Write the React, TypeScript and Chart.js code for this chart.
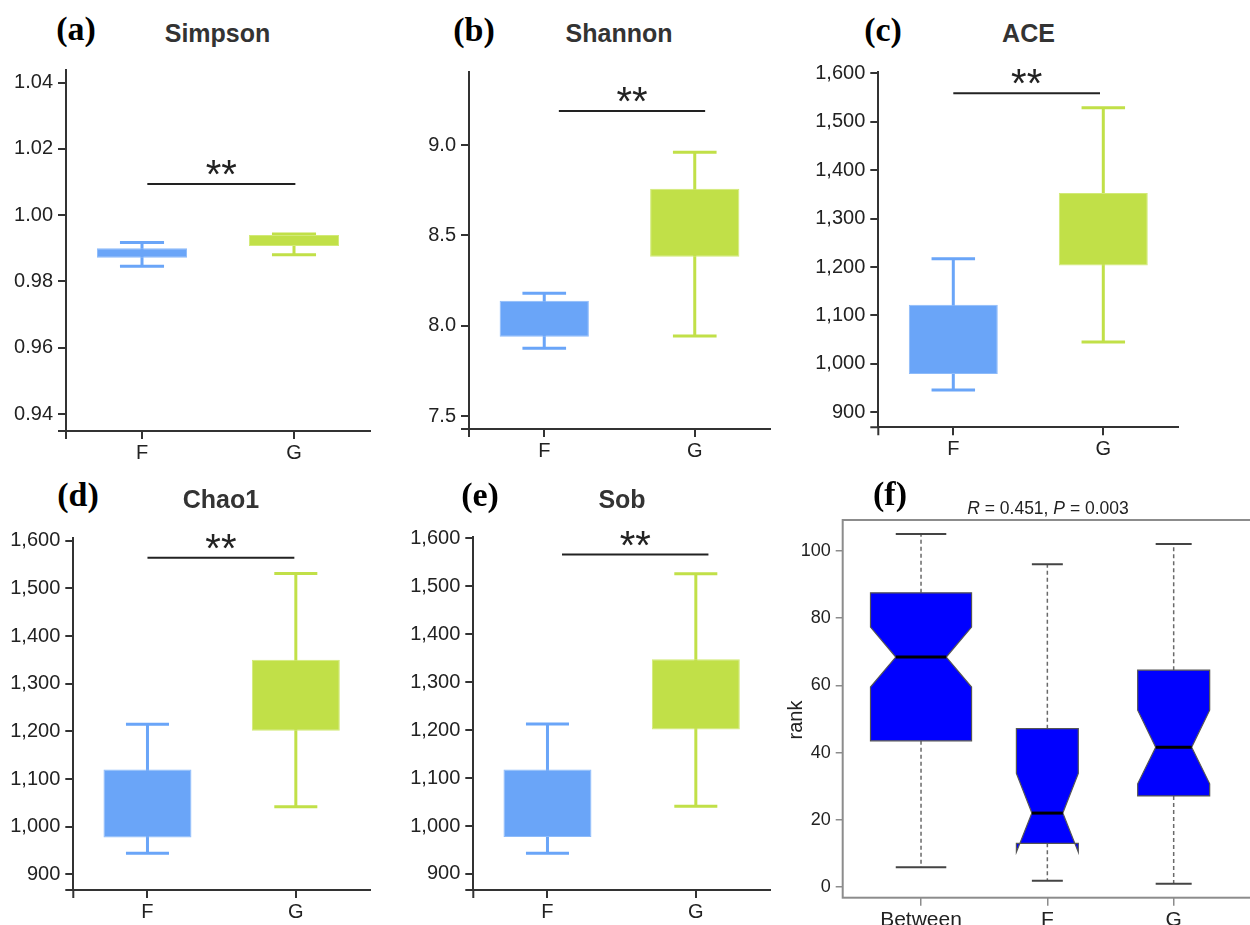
import React, { useEffect, useRef } from "react";
import { Chart, registerables } from "chart.js";
Chart.register(...registerables);

const SANS = "'Liberation Sans', Arial, sans-serif";
const SERIF = "'Liberation Serif', 'Times New Roman', serif";
const AX = "#333333";
const TXT = "#222222";

// ---------- data ----------
const groups = ["F", "G"];
const boxColors = ["#6aa5f8", "#c1e048"];
const boxEdges = ["#8dbbfa", "#d2ea77"];

// (a) Simpson
const simpsonLow = [0.9846, 0.9881];
const simpsonQ1 = [0.9872, 0.9907];
const simpsonQ3 = [0.99, 0.994];
const simpsonHigh = [0.9918, 0.9943];
const simpsonTicks = [0.94, 0.96, 0.98, 1.0, 1.02, 1.04];
const simpsonSig = 1.0094;

// (b) Shannon
const shannonLow = [7.875, 7.943];
const shannonQ1 = [7.939, 8.382];
const shannonQ3 = [8.138, 8.758];
const shannonHigh = [8.179, 8.96];
const shannonTicks = [7.5, 8.0, 8.5, 9.0];
const shannonSig = 9.188;

// (c) ACE
const aceLow = [946, 1045];
const aceQ1 = [979, 1203];
const aceQ3 = [1122, 1353];
const aceHigh = [1217, 1529];
const aceSig = 1559;

// (d) Chao1
const chaoLow = [944, 1042];
const chaoQ1 = [977, 1201];
const chaoQ3 = [1120, 1350];
const chaoHigh = [1215, 1531];
const chaoSig = 1564;

// (e) Sob
const sobLow = [943, 1041];
const sobQ1 = [977, 1201.5];
const sobQ3 = [1118, 1348];
const sobHigh = [1213, 1526];
const sobSig = 1566;

const richnessTicks = [900, 1000, 1100, 1200, 1300, 1400, 1500, 1600];

// (f) ANOSIM rank
const anosimGroups = ["Between", "F", "G"];
const anosimLow = [5.9, 1.9, 1.0];
const anosimQ1 = [43.5, 13.0, 27.1];
const anosimNotchLow = [59.5, 10.4, 30.7];
const anosimMedian = [68.4, 22.0, 41.6];
const anosimNotchHigh = [77.3, 33.8, 52.6];
const anosimQ3 = [87.5, 47.1, 64.5];
const anosimHigh = [105, 96, 102];
const anosimTicks = [0, 20, 40, 60, 80, 100];
const anosimBoxWidths = [0.8, 0.49, 0.57];

const fmt2 = (v: number) => v.toFixed(2);
const fmt1 = (v: number) => v.toFixed(1);
const fmtK = (v: number) => v.toLocaleString("en-US");

type Panel = {
  left: number; top: number; w: number; h: number;
  padTop: number; padRight: number; yW: number; xH: number;
  min: number; max: number; ticks: number[]; fmt: (v: number) => string;
  low: number[]; q1: number[]; q3: number[]; high: number[];
  sig: number; sigFrom: number; sigTo: number;
};

const panels: Panel[] = [
  { left: 0, top: 58, w: 380, h: 402, padTop: 12, padRight: 10, yW: 66, xH: 29,
    min: 0.9349, max: 1.0438, ticks: simpsonTicks, fmt: fmt2,
    low: simpsonLow, q1: simpsonQ1, q3: simpsonQ3, high: simpsonHigh, sig: simpsonSig, sigFrom: 0.035, sigTo: 1.009 },
  { left: 400, top: 60, w: 380, h: 400, padTop: 11.7, padRight: 10, yW: 69, xH: 31,
    min: 7.428, max: 9.406, ticks: shannonTicks, fmt: fmt1,
    low: shannonLow, q1: shannonQ1, q3: shannonQ3, high: shannonHigh, sig: shannonSig, sigFrom: 0.097, sigTo: 1.069 },
  { left: 810, top: 60, w: 380, h: 400, padTop: 11.7, padRight: 11.7, yW: 68.3, xH: 32.7,
    min: 869, max: 1603.3, ticks: richnessTicks, fmt: fmtK,
    low: aceLow, q1: aceQ1, q3: aceQ3, high: aceHigh, sig: aceSig, sigFrom: 0, sigTo: 0.978 },
  { left: 0, top: 526, w: 380, h: 399, padTop: 12, padRight: 10, yW: 73.3, xH: 35,
    min: 867.1, max: 1605.7, ticks: richnessTicks, fmt: fmtK,
    low: chaoLow, q1: chaoQ1, q3: chaoQ3, high: chaoHigh, sig: chaoSig, sigFrom: 0, sigTo: 0.99 },
  { left: 400, top: 525, w: 380, h: 400, padTop: 12.3, padRight: 10, yW: 73.3, xH: 35,
    min: 866.6, max: 1602.1, ticks: richnessTicks, fmt: fmtK,
    low: sobLow, q1: sobQ1, q3: sobQ3, high: sobHigh, sig: sobSig, sigFrom: 0.098, sigTo: 1.085 },
];

function BoxPanel({ p }: { p: Panel }) {
  const ref = useRef<HTMLCanvasElement | null>(null);
  useEffect(() => {
    const extras = {
      id: "extras",
      beforeDatasetsDraw(chart: any) {
        const { ctx, scales } = chart;
        const x = scales.x, y = scales.y;
        const cw = x.getPixelForValue(1) - x.getPixelForValue(0);
        const hw = (cw * 0.29) / 2;
        ctx.save();
        ctx.lineWidth = 3;
        groups.forEach((_, i) => {
          const cx = x.getPixelForValue(i);
          ctx.strokeStyle = boxColors[i];
          ctx.beginPath();
          ctx.moveTo(cx, y.getPixelForValue(p.low[i]));
          ctx.lineTo(cx, y.getPixelForValue(p.high[i]));
          [p.low[i], p.high[i]].forEach((v) => {
            const py = y.getPixelForValue(v);
            ctx.moveTo(cx - hw, py);
            ctx.lineTo(cx + hw, py);
          });
          ctx.stroke();
        });
        ctx.restore();
      },
      afterDraw(chart: any) {
        const { ctx, scales, chartArea } = chart;
        const x = scales.x, y = scales.y;
        ctx.save();
        ctx.strokeStyle = AX;
        ctx.lineWidth = 2;
        ctx.beginPath();
        ctx.moveTo(chartArea.left - 8, chartArea.bottom);
        ctx.lineTo(chartArea.left, chartArea.bottom);
        ctx.lineTo(chartArea.left, chartArea.bottom + 8);
        ctx.stroke();
        const sy = y.getPixelForValue(p.sig);
        const x0 = x.getPixelForValue(p.sigFrom);
        const x1 = x.getPixelForValue(p.sigTo);
        ctx.strokeStyle = "#222";
        ctx.beginPath();
        ctx.moveTo(x0, sy);
        ctx.lineTo(x1, sy);
        ctx.stroke();
        ctx.fillStyle = "#222";
        ctx.font = `40px ${SANS}`;
        ctx.textAlign = "center";
        ctx.textBaseline = "alphabetic";
        ctx.fillText("**", (x0 + x1) / 2, sy + 4);
        ctx.restore();
      },
    };
    const chart = new Chart(ref.current as HTMLCanvasElement, {
      type: "bar",
      data: {
        labels: groups,
        datasets: [
          {
            data: groups.map((_, i) => [p.q1[i], p.q3[i]]) as any,
            backgroundColor: boxColors,
            borderColor: boxEdges,
            borderWidth: 1,
            borderSkipped: false,
            barPercentage: 0.593,
            categoryPercentage: 1,
          },
        ],
      },
      options: {
        animation: false,
        responsive: false,
        events: [],
        layout: { padding: { top: p.padTop, right: p.padRight, left: 0, bottom: 0 } },
        plugins: { legend: { display: false }, tooltip: { enabled: false } },
        scales: {
          x: {
            type: "category",
            offset: true,
            grid: { offset: false, drawOnChartArea: false, drawTicks: true, tickLength: 8, color: AX, lineWidth: 2 },
            border: { display: true, color: AX, width: 2 },
            ticks: { color: TXT, font: { family: SANS, size: 20 }, padding: 2, maxRotation: 0 },
            afterFit: (s: any) => {
              s.height = p.xH;
              s.paddingLeft = 0;
              s.paddingRight = 0;
            },
          },
          y: {
            type: "linear",
            min: p.min,
            max: p.max,
            afterBuildTicks: (s: any) => {
              s.ticks = p.ticks.map((v) => ({ value: v }));
            },
            grid: { drawOnChartArea: false, drawTicks: true, tickLength: 8, color: AX, lineWidth: 2 },
            border: { display: true, color: AX, width: 2 },
            ticks: {
              color: TXT,
              font: { family: SANS, size: 20 },
              padding: 5,
              callback: (v: any) => p.fmt(Number(v)),
            },
            afterFit: (s: any) => {
              s.width = p.yW;
              s.paddingTop = 0;
              s.paddingBottom = 0;
            },
          },
        },
      } as any,
      plugins: [extras],
    });
    return () => chart.destroy();
  }, []);
  return (
    <canvas
      ref={ref}
      width={p.w}
      height={p.h}
      style={{ position: "absolute", left: p.left, top: p.top, width: p.w, height: p.h }}
    />
  );
}

function AnosimPanel() {
  const ref = useRef<HTMLCanvasElement | null>(null);
  useEffect(() => {
    const FRAME = "#8c8c8c";
    const draw = {
      id: "notched",
      afterDatasetsDraw(chart: any) {
        const { ctx, scales, chartArea } = chart;
        const x = scales.x, y = scales.y;
        const unit = x.getPixelForValue(1) - x.getPixelForValue(0);
        ctx.save();
        anosimGroups.forEach((_, i) => {
          const cx = x.getPixelForValue(i + 1);
          const hw = (anosimBoxWidths[i] * unit) / 2;
          const Y = (v: number) => y.getPixelForValue(v);
          ctx.strokeStyle = "#6a6a6a";
          ctx.lineWidth = 1.5;
          ctx.setLineDash([4, 3]);
          ctx.beginPath();
          ctx.moveTo(cx, Y(anosimQ3[i]));
          ctx.lineTo(cx, Y(anosimHigh[i]));
          ctx.moveTo(cx, Y(anosimQ1[i]));
          ctx.lineTo(cx, Y(anosimLow[i]));
          ctx.stroke();
          ctx.setLineDash([]);
          ctx.strokeStyle = "#444";
          ctx.lineWidth = 2;
          ctx.beginPath();
          [anosimHigh[i], anosimLow[i]].forEach((v) => {
            ctx.moveTo(cx - hw / 2, Y(v));
            ctx.lineTo(cx + hw / 2, Y(v));
          });
          ctx.stroke();
          const pts: [number, number][] = [
            [-hw, anosimQ1[i]],
            [-hw, anosimNotchLow[i]],
            [-hw / 2, anosimMedian[i]],
            [-hw, anosimNotchHigh[i]],
            [-hw, anosimQ3[i]],
            [hw, anosimQ3[i]],
            [hw, anosimNotchHigh[i]],
            [hw / 2, anosimMedian[i]],
            [hw, anosimNotchLow[i]],
            [hw, anosimQ1[i]],
          ];
          ctx.beginPath();
          pts.forEach(([dx, v], k) => {
            if (k === 0) ctx.moveTo(cx + dx, Y(v));
            else ctx.lineTo(cx + dx, Y(v));
          });
          ctx.closePath();
          ctx.fillStyle = "#0000ff";
          ctx.fill();
          ctx.strokeStyle = "#555";
          ctx.lineWidth = 1.2;
          ctx.stroke();
          ctx.strokeStyle = "#000";
          ctx.lineWidth = 3;
          ctx.beginPath();
          ctx.moveTo(cx - hw / 2, Y(anosimMedian[i]));
          ctx.lineTo(cx + hw / 2, Y(anosimMedian[i]));
          ctx.stroke();
        });
        ctx.strokeStyle = FRAME;
        ctx.lineWidth = 2;
        ctx.strokeRect(chartArea.left, chartArea.top, chartArea.right - chartArea.left + 4, chartArea.bottom - chartArea.top);
        ctx.restore();
      },
    };
    const chart = new Chart(ref.current as HTMLCanvasElement, {
      type: "scatter",
      data: { datasets: [{ data: [] }] },
      options: {
        animation: false,
        responsive: false,
        events: [],
        layout: { padding: { top: 14, right: 0, left: 0, bottom: 0 } },
        plugins: { legend: { display: false }, tooltip: { enabled: false } },
        scales: {
          x: {
            type: "linear",
            min: 0.38,
            max: 3.62,
            afterBuildTicks: (s: any) => {
              s.ticks = anosimGroups.map((_, i) => ({ value: i + 1 }));
            },
            grid: { drawOnChartArea: false, drawTicks: true, tickLength: 8, color: FRAME, lineWidth: 1.5 },
            border: { display: false },
            ticks: {
              color: TXT,
              font: { family: SANS, size: 21 },
              padding: 2,
              maxRotation: 0,
              callback: (v: any) => anosimGroups[Math.round(Number(v)) - 1],
            },
            afterFit: (s: any) => {
              s.height = 27.3;
              s.paddingLeft = 0;
              s.paddingRight = 0;
            },
          },
          y: {
            type: "linear",
            min: -3.16,
            max: 109.16,
            afterBuildTicks: (s: any) => {
              s.ticks = anosimTicks.map((v) => ({ value: v }));
            },
            grid: { drawOnChartArea: false, drawTicks: true, tickLength: 7, color: FRAME, lineWidth: 1.5 },
            border: { display: false },
            ticks: { color: TXT, font: { family: SANS, size: 18 }, padding: 5 },
            afterFit: (s: any) => {
              s.width = 72.7;
              s.paddingTop = 0;
              s.paddingBottom = 0;
            },
          },
        },
      } as any,
      plugins: [draw],
    });
    return () => chart.destroy();
  }, []);
  return (
    <canvas
      ref={ref}
      width={482}
      height={419}
      style={{ position: "absolute", left: 770, top: 506, width: 482, height: 419 }}
    />
  );
}

function Txt(props: {
  cx: number; baseline: number; size: number; serif?: boolean; bold?: boolean; color?: string; children: any;
}) {
  const ratio = props.serif ? 0.8375 : 0.8465;
  const top = props.baseline - ratio * props.size;
  return (
    <div
      style={{
        position: "absolute",
        left: props.cx - 150,
        width: 300,
        top,
        textAlign: "center",
        fontFamily: props.serif ? SERIF : SANS,
        fontWeight: props.bold ? "bold" : "normal",
        fontSize: props.size,
        lineHeight: 1,
        color: props.color || "#000",
        whiteSpace: "nowrap",
      }}
    >
      {props.children}
    </div>
  );
}

export default function App() {
  return (
    <div
      style={{
        position: "absolute",
        left: 0,
        top: 0,
        width: 1250,
        height: 925,
        overflow: "hidden",
        background: "#fff",
      }}
    >
      {panels.map((p, i) => (
        <BoxPanel key={i} p={p} />
      ))}
      <AnosimPanel />

      <Txt cx={76} baseline={40} size={34} serif bold>(a)</Txt>
      <Txt cx={474} baseline={41} size={34} serif bold>(b)</Txt>
      <Txt cx={883} baseline={41} size={34} serif bold>(c)</Txt>
      <Txt cx={78} baseline={506} size={34} serif bold>(d)</Txt>
      <Txt cx={480} baseline={506} size={34} serif bold>(e)</Txt>
      <Txt cx={890} baseline={505} size={34} serif bold>(f)</Txt>

      <Txt cx={217.5} baseline={41.7} size={25} bold color="#333">Simpson</Txt>
      <Txt cx={619} baseline={42} size={25} bold color="#333">Shannon</Txt>
      <Txt cx={1028.5} baseline={42.3} size={25} bold color="#333">ACE</Txt>
      <Txt cx={221} baseline={508.3} size={25} bold color="#333">Chao1</Txt>
      <Txt cx={622} baseline={508.3} size={25} bold color="#333">Sob</Txt>

      <Txt cx={1048} baseline={515} size={17.5} color="#222">
        <i>R</i> = 0.451, <i>P</i> = 0.003
      </Txt>
      <div
        style={{
          position: "absolute",
          left: 795 - 50,
          top: 720 - 10,
          width: 100,
          height: 20,
          lineHeight: "20px",
          textAlign: "center",
          fontFamily: SANS,
          fontSize: 20,
          color: TXT,
          transform: "rotate(-90deg)",
        }}
      >
        rank
      </div>
    </div>
  );
}
